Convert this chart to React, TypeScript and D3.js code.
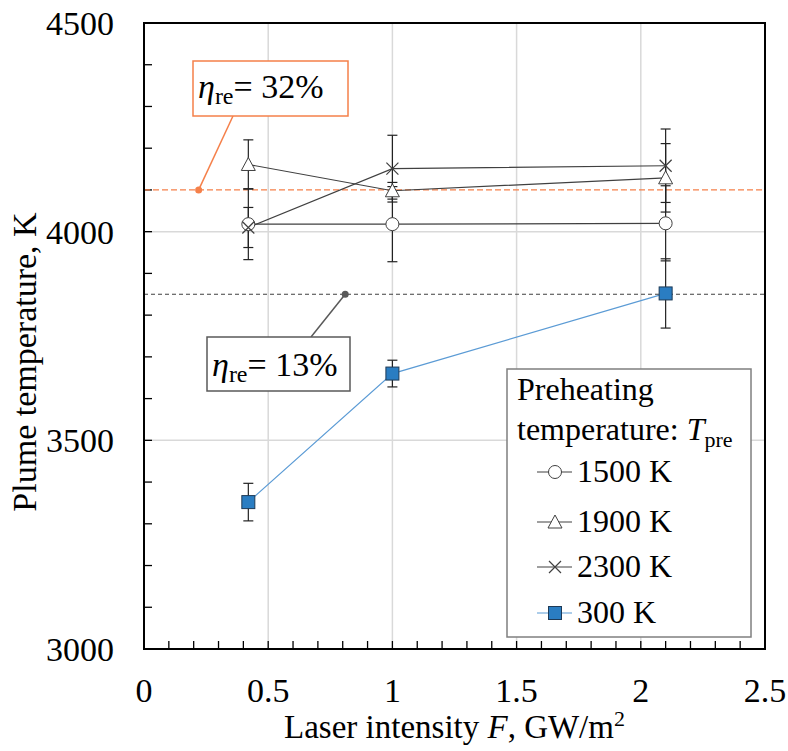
import React from 'react';
import { scaleLinear, line, range } from 'd3';

// laser intensity F (GW/m2)
const intensity = [0.42, 1, 2.1];

// plume temperature (K) and error half-widths per preheating temperature
const temp1500 = [4018, 4018, 4020];
const err1500 = [85, 90, 90];
const temp1900 = [4161, 4098, 4129];
const err1900 = [59, 20, 82];
const temp2300 = [4010, 4151, 4158];
const err2300 = [48, 80, 88];
const temp300 = [3352, 3660, 3852];
const err300 = [45, 32, 83];

const seriesNames = ['1500 K', '1900 K', '2300 K', '300 K'];

// reference levels for the recombination efficiency callouts
const etaLevels = [4100, 3850];
const etaLabels = ['32%', '13%'];
const etaDotF = [0.22, 0.81];

const xTicks = [0, 0.5, 1, 1.5, 2, 2.5];
const yTicks = [3000, 3500, 4000, 4500];

const W = 788;
const H = 751;
const M = { left: 144, right: 765, top: 23, bottom: 649 };
const FONT = 'Liberation Serif';
const GRAY = '#404040';
const BLUE_LINE = '#5b9bd5';
const BLUE_FILL = '#2a7dc2';
const ORANGE = '#f5804a';

function Marker({ kind, x, y }: { kind: string; x: number; y: number }) {
  if (kind === 'circle')
    return <circle cx={x} cy={y} r={6.5} fill="white" stroke={GRAY} strokeWidth={1} />;
  if (kind === 'triangle')
    return (
      <path
        d={`M${x},${y - 7} L${x + 7},${y + 6} L${x - 7},${y + 6} Z`}
        fill="white"
        stroke={GRAY}
        strokeWidth={1}
      />
    );
  if (kind === 'cross')
    return (
      <path
        d={`M${x - 6},${y - 6} L${x + 6},${y + 6} M${x - 6},${y + 6} L${x + 6},${y - 6}`}
        stroke={GRAY}
        strokeWidth={1.2}
      />
    );
  return (
    <rect x={x - 6.5} y={y - 6.5} width={13} height={13} fill={BLUE_FILL} stroke="#1e3a56" strokeWidth={1} />
  );
}

function T(props: any) {
  const { children, ...rest } = props;
  return (
    <text fill="black" {...rest} style={{ fontFamily: FONT }}>
      {children}
    </text>
  );
}

export default function App() {
  const x = scaleLinear().domain([0, 2.5]).range([M.left, M.right]);
  const y = scaleLinear().domain([3000, 4500]).range([M.bottom, M.top]);

  const series = [
    { name: seriesNames[0], vals: temp1500, errs: err1500, kind: 'circle', color: GRAY },
    { name: seriesNames[1], vals: temp1900, errs: err1900, kind: 'triangle', color: GRAY },
    { name: seriesNames[2], vals: temp2300, errs: err2300, kind: 'cross', color: GRAY },
    { name: seriesNames[3], vals: temp300, errs: err300, kind: 'square', color: BLUE_LINE },
  ];

  const path = line<[number, number]>()
    .x((d) => x(d[0]))
    .y((d) => y(d[1]));

  const minorX = range(0, 2.5001, 0.1);
  const minorY = range(3000, 4500.1, 100);

  // callout boxes (layout only)
  const boxes = [
    { x: 193, y: 61, w: 155, h: 55, base: 37, color: ORANGE, anchorX: 233, anchorY: 116 },
    { x: 207, y: 337, w: 143, h: 54, base: 39, color: '#595959', anchorX: 311, anchorY: 337 },
  ];

  const legendX = 507;
  const legendY = 369;
  const legendRows = [482, 532, 577, 623];

  return (
    <svg width={W} height={H} style={{ position: 'absolute', left: 0, top: 0 }}>
      <rect width={W} height={H} fill="white" />
      {/* grid */}
      {xTicks.slice(1, -1).map((t) => (
        <line key={'gx' + t} x1={x(t)} x2={x(t)} y1={M.top} y2={M.bottom} stroke="#d9d9d9" strokeWidth={1.5} />
      ))}
      {yTicks.slice(1, -1).map((t) => (
        <line key={'gy' + t} x1={M.left} x2={M.right} y1={y(t)} y2={y(t)} stroke="#d9d9d9" strokeWidth={1.5} />
      ))}

      {/* minor ticks, pointing inward */}
      {minorX.map((t, i) => (
        <line key={'tx' + i} x1={x(t)} x2={x(t)} y1={M.bottom} y2={M.bottom - 8} stroke="black" strokeWidth={1.3} />
      ))}
      {minorY.map((t, i) => (
        <line key={'ty' + i} x1={M.left} x2={M.left + 8} y1={y(t)} y2={y(t)} stroke="black" strokeWidth={1.3} />
      ))}

      {/* reference dashed levels */}
      <line x1={M.left} x2={M.right} y1={y(etaLevels[0])} y2={y(etaLevels[0])} stroke={ORANGE} strokeWidth={1.3} strokeDasharray="6,3" />
      <line x1={M.left} x2={M.right} y1={y(etaLevels[1])} y2={y(etaLevels[1])} stroke={GRAY} strokeWidth={1.2} strokeDasharray="4,3" />

      {/* series lines */}
      {series.map((s) => (
        <path
          key={'l' + s.name}
          d={path(intensity.map((f, i) => [f, s.vals[i]] as [number, number])) || ''}
          fill="none"
          stroke={s.color}
          strokeWidth={1.2}
        />
      ))}

      {/* error bars */}
      {series.map((s) =>
        intensity.map((f, i) => (
          <g key={'e' + s.name + i} stroke="#222" strokeWidth={1.2}>
            <line x1={x(f)} x2={x(f)} y1={y(s.vals[i] - s.errs[i])} y2={y(s.vals[i] + s.errs[i])} />
            <line x1={x(f) - 5} x2={x(f) + 5} y1={y(s.vals[i] - s.errs[i])} y2={y(s.vals[i] - s.errs[i])} />
            <line x1={x(f) - 5} x2={x(f) + 5} y1={y(s.vals[i] + s.errs[i])} y2={y(s.vals[i] + s.errs[i])} />
          </g>
        ))
      )}

      {/* markers */}
      {series.map((s) =>
        intensity.map((f, i) => <Marker key={'m' + s.name + i} kind={s.kind} x={x(f)} y={y(s.vals[i])} />)
      )}

      {/* frame */}
      <rect x={M.left} y={M.top} width={M.right - M.left} height={M.bottom - M.top} fill="none" stroke="black" strokeWidth={2} />

      {/* callouts */}
      {boxes.map((b, i) => (
        <g key={'c' + i}>
          <line x1={x(etaDotF[i])} y1={y(etaLevels[i])} x2={b.anchorX} y2={b.anchorY} stroke={b.color} strokeWidth={1.5} />
          <circle cx={x(etaDotF[i])} cy={y(etaLevels[i])} r={3.5} fill={b.color} />
          <rect x={b.x} y={b.y} width={b.w} height={b.h} fill="white" stroke={b.color} strokeWidth={1.5} />
          <T x={b.x + 5} y={b.y + b.base} fontSize={34}>
            <tspan fontStyle="italic">η</tspan>
            <tspan fontSize={24} dy={6}>re</tspan>
            <tspan dy={-6}>= {etaLabels[i]}</tspan>
          </T>
        </g>
      ))}

      {/* legend */}
      <rect x={legendX} y={legendY} width={244} height={268} fill="white" stroke="#7f7f7f" strokeWidth={1.5} />
      <T x={517} y={400} fontSize={32}>Preheating</T>
      <T x={517} y={440} fontSize={32}>
        temperature: <tspan fontStyle="italic">T</tspan>
        <tspan fontSize={22} dy={7}>pre</tspan>
      </T>
      {series.map((s, i) => (
        <g key={'lg' + s.name}>
          <line x1={537} x2={572} y1={legendRows[i] - 10} y2={legendRows[i] - 10} stroke={s.color} strokeWidth={1.2} />
          <Marker kind={s.kind} x={555} y={legendRows[i] - 10} />
          <T x={577} y={legendRows[i]} fontSize={32}>{s.name}</T>
        </g>
      ))}

      {/* axis tick labels */}
      {xTicks.map((t) => (
        <T key={'xl' + t} x={x(t)} y={702} fontSize={34} textAnchor="middle">
          {t}
        </T>
      ))}
      {yTicks.map((t) => (
        <T key={'yl' + t} x={114} y={y(t) + 12} fontSize={34} textAnchor="end">
          {t}
        </T>
      ))}

      {/* axis titles */}
      <T x={(M.left + M.right) / 2} y={738} fontSize={33} textAnchor="middle">
        Laser intensity <tspan fontStyle="italic">F</tspan>, GW/m
        <tspan fontSize={22} dy={-12}>2</tspan>
      </T>
      <T transform={`translate(36,362) rotate(-90)`} fontSize={34} textAnchor="middle">
        Plume temperature, K
      </T>
    </svg>
  );
}
